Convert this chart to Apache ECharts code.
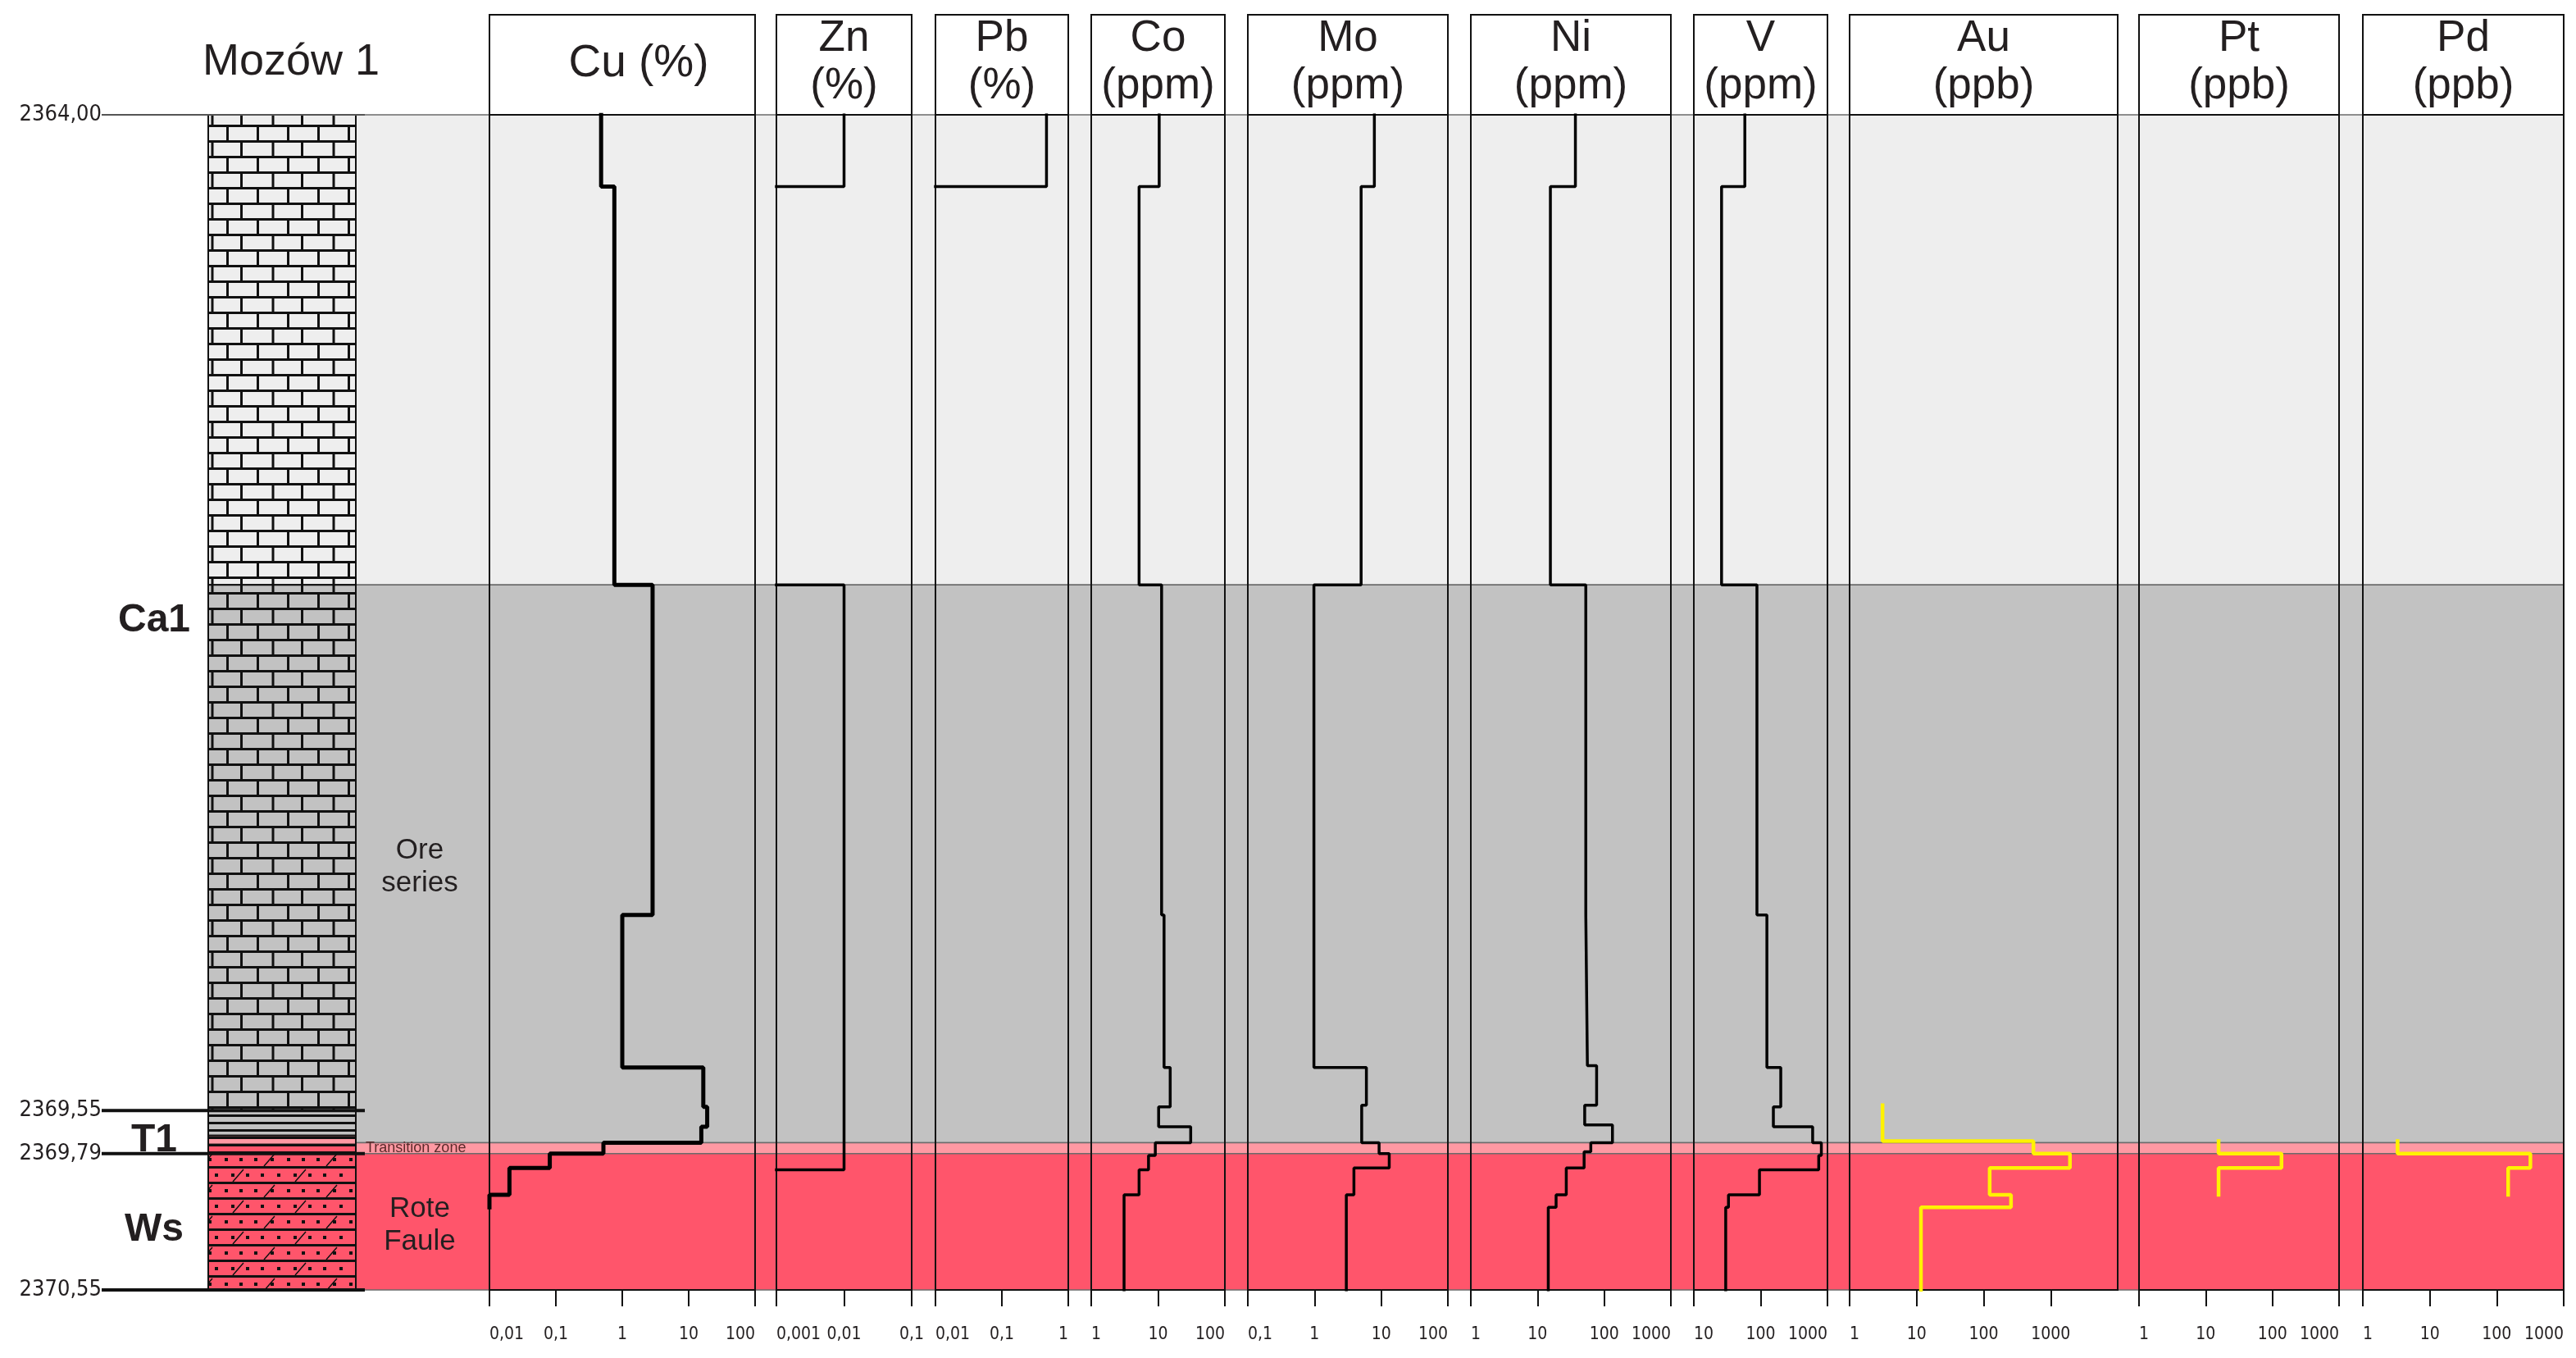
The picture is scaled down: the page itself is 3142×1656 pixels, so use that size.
<!DOCTYPE html>
<html>
<head>
<meta charset="utf-8">
<script src="https://cdn.jsdelivr.net/npm/echarts@6/dist/echarts.min.js"></script>
<style>
  html, body { margin: 0; padding: 0; background: #fff; }
  #chart { width: 3142px; height: 1656px; }
</style>
</head>
<body>
<div id="chart"></div>
<script>
// Mozów 1 - profil geochemiczny (Ca1 / T1 / Ws)

// zakres głębokości
const depthTop = 2364.00;
const depthBottom = 2370.55;

// kolumna litologiczna
const lithoTop = [2364.00, 2366.62, 2369.55, 2369.69, 2369.74, 2369.79];
const lithoBottom = [2366.62, 2369.55, 2369.69, 2369.74, 2369.79, 2370.55];
const lithoKind = ['limeLight', 'limeDark', 'shaleGray', 'shalePink', 'shaleRed', 'sandRed'];

// głębokości opisane z lewej
const depthMarks = [2364.00, 2369.55, 2369.79, 2370.55];

// jednostki stratygraficzne
const unitNames = ['Ca1', 'T1', 'Ws'];
const unitTop = [2364.00, 2369.55, 2369.79];
const unitBottom = [2369.55, 2369.79, 2370.55];

// strefy w tle
const zoneTop = [2364.00, 2366.62, 2369.73, 2369.79];
const zoneBottom = [2366.62, 2369.73, 2369.79, 2370.55];
const zoneNames = ['', 'Ore\nseries', 'Transition zone', 'Rote\nFaule'];

// pierwiastki i osie
const elements = ['Cu', 'Zn', 'Pb', 'Co', 'Mo', 'Ni', 'V', 'Au', 'Pt', 'Pd'];
const units = ['%', '%', '%', 'ppm', 'ppm', 'ppm', 'ppm', 'ppb', 'ppb', 'ppb'];
const axisMin = [0.01, 0.001, 0.01, 1, 0.1, 1, 10, 1, 1, 1];
const axisMax = [100, 0.1, 1, 100, 100, 1000, 1000, 10000, 1000, 1000];

// profile: granice próbek (głębokość) i wartości w przedziałach (null = poniżej osi)
const cuDepth = [2364.00, 2364.40, 2366.62, 2368.46, 2369.31, 2369.53, 2369.64, 2369.73, 2369.79, 2369.87, 2370.02, 2370.09];
const cuValue = [0.48, 0.76, 2.86, 1.0, 16.6, 19, 15.5, 0.52, 0.081, 0.020, 0.010];

const znDepth = [2364.00, 2364.40, 2366.62, 2369.88, 2370.55];
const znValue = [0.01, null, 0.01, null];

const pbDepth = [2364.00, 2364.40, 2370.55];
const pbValue = [0.47, null];

const coDepth = [2364.00, 2364.40, 2366.62, 2368.46, 2369.31, 2369.53, 2369.64, 2369.73, 2369.80, 2369.88, 2370.02, 2370.55];
const coValue = [10.4, 5.2, 11.3, 12.3, 15.2, 10.2, 30.8, 9.1, 7.2, 5.2, 3.1];

const moDepth = [2364.00, 2364.40, 2366.62, 2369.31, 2369.52, 2369.73, 2369.79, 2369.87, 2370.02, 2370.55];
const moValue = [7.9, 5.0, 0.98, 6.0, 5.1, 9.3, 13.2, 3.9, 3.0];

const niDepth = [2364.00, 2364.40, 2366.62, 2368.46, 2369.30, 2369.52, 2369.63, 2369.73, 2369.78, 2369.87, 2370.02, 2370.09, 2370.55];
const niValue = [37, 15.6, 53, 56, 77, 51, 133, 63, 50, 27, 19, 14.5];

const vDepth = [2364.00, 2364.40, 2366.62, 2368.46, 2369.31, 2369.53, 2369.64, 2369.73, 2369.80, 2369.88, 2370.02, 2370.09, 2370.55];
const vValue = [58, 26, 88, 124, 200, 155, 600, 810, 740, 96, 33, 30];

const auDepth = [2369.52, 2369.72, 2369.79, 2369.87, 2370.02, 2370.09, 2370.55];
const auValue = [3.1, 553, 1940, 123, 256, 11.6];

const ptDepth = [2369.72, 2369.79, 2369.87, 2370.02];
const ptValue = [15.6, 137, 15.6];

const pdDepth = [2369.72, 2369.79, 2369.87, 2370.02];
const pdValue = [3.3, 318, 148];

const profileDepth = [cuDepth, znDepth, pbDepth, coDepth, moDepth, niDepth, vDepth, auDepth, ptDepth, pdDepth];
const profileValue = [cuValue, znValue, pbValue, coValue, moValue, niValue, vValue, auValue, ptValue, pdValue];

// układ kolumn (px)
const panelLeft = [597, 947, 1141, 1331, 1522, 1794, 2066, 2256, 2609, 2882];
const panelRight = [921, 1112, 1303, 1494, 1766, 2038, 2229, 2583, 2853, 3127];
const plotTop = 140, plotHeight = 1433;

const FONT = '"Liberation Sans", Arial, sans-serif';
const NARROW = '"Liberation Sans Narrow", "DejaVu Sans Condensed", sans-serif';
const INK = '#231F20';
const zoneColor = ['#EEEEEE', '#C2C2C2', '#FF99A3', '#FF556B'];

// schodkowy przebieg z przedziałów
function stepPoints(depths, values, minVal) {
    const pts = [];
    values.forEach((v, i) => {
        if (v === null) {
            if (i > 0) pts.push([minVal, depths[i]]);
            pts.push(['-', '-']);
            if (i + 1 < values.length) pts.push([minVal, depths[i + 1]]);
            return;
        }
        pts.push([v, depths[i]], [v, depths[i + 1]]);
    });
    return pts;
}

// wzory wypełnień kolumny litologicznej
function makePattern(kind) {
    const c = document.createElement('canvas');
    const g = c.getContext('2d');
    const bg = {
        limeLight: '#EEEEEE', limeDark: '#C2C2C2', shaleGray: '#C2C2C2',
        shalePink: '#FF99A3', shaleRed: '#FF556B', sandRed: '#FF556B'
    }[kind];
    if (kind.indexOf('lime') === 0) {
        c.width = 74; c.height = 38;
        g.fillStyle = bg; g.fillRect(0, 0, 74, 38);
        g.strokeStyle = '#111'; g.lineWidth = 3;
        g.beginPath();
        g.moveTo(0, 1.5); g.lineTo(74, 1.5);
        g.moveTo(0, 20.5); g.lineTo(74, 20.5);
        g.moveTo(18.5, 1.5); g.lineTo(18.5, 20.5);
        g.moveTo(55.5, 1.5); g.lineTo(55.5, 20.5);
        g.moveTo(37, 20.5); g.lineTo(37, 38);
        g.moveTo(72.5, 20.5); g.lineTo(72.5, 38);
        g.stroke();
    } else if (kind.indexOf('shale') === 0) {
        c.width = 10; c.height = 9;
        g.fillStyle = bg; g.fillRect(0, 0, 10, 9);
        g.fillStyle = '#111'; g.fillRect(0, 0, 10, 3);
    } else {
        c.width = 76; c.height = 38;
        g.fillStyle = bg; g.fillRect(0, 0, 76, 38);
        g.fillStyle = '#111';
        g.fillRect(0, 16, 76, 3);
        g.fillRect(0, 35, 76, 3);
        [6, 26, 46, 64].forEach(x => g.fillRect(x, 6, 4, 4));
        [14, 34, 54, 72].forEach(x => g.fillRect(x, 25, 4, 4));
        g.strokeStyle = '#111'; g.lineWidth = 1.5;
        g.beginPath();
        g.moveTo(18, 16); g.lineTo(31, 1);
        g.moveTo(56, 35); g.lineTo(69, 20);
        g.stroke();
    }
    return { image: c, repeat: 'repeat' };
}

const patterns = {};
lithoKind.forEach(k => { patterns[k] = makePattern(k); });

const chart = echarts.init(document.getElementById('chart'), null, { renderer: 'canvas' });

const grids = [], xAxes = [], yAxes = [], series = [];

elements.forEach((el, i) => {
    grids.push({
        left: panelLeft[i], width: panelRight[i] - panelLeft[i],
        top: plotTop, height: plotHeight,
        show: true, borderColor: '#111', borderWidth: 2, backgroundColor: 'transparent'
    });
    xAxes.push({
        type: 'log', logBase: 10, gridIndex: i,
        min: axisMin[i], max: axisMax[i],
        axisLine: { show: true, lineStyle: { color: '#111', width: 2 } },
        axisTick: { show: true, length: 20, lineStyle: { color: '#111', width: 2 } },
        axisLabel: {
            margin: 44, fontSize: 21, fontFamily: NARROW, color: INK,
            alignMinLabel: 'left', alignMaxLabel: 'right',
            formatter: v => Number(v.toPrecision(4)).toString().replace('.', ',')
        },
        splitLine: { show: false }
    });
    yAxes.push({
        type: 'value', gridIndex: i, min: depthTop, max: depthBottom,
        inverse: true, show: false
    });
    const noble = i >= 7;
    series.push({
        type: 'line', xAxisIndex: i, yAxisIndex: i,
        data: stepPoints(profileDepth[i], profileValue[i], axisMin[i]),
        symbol: 'none', connectNulls: false, z: 5,
        lineStyle: { color: noble ? '#FFF200' : '#000', width: i === 0 ? 5 : (noble ? 4.5 : 3.5), cap: 'square' }
    });
});

// siatka tła (strefy)
grids.push({ left: 434, width: 3127 - 434, top: plotTop, height: plotHeight, show: false });
xAxes.push({ type: 'value', gridIndex: 10, min: 0, max: 1, show: false });
yAxes.push({ type: 'value', gridIndex: 10, min: depthTop, max: depthBottom, inverse: true, show: false });

// siatka kolumny litologicznej
grids.push({ left: 254, width: 180, top: plotTop, height: plotHeight, show: false });
xAxes.push({ type: 'value', gridIndex: 11, min: 0, max: 1, show: false });
yAxes.push({ type: 'value', gridIndex: 11, min: depthTop, max: depthBottom, inverse: true, show: false });

series.push({
    type: 'custom', xAxisIndex: 10, yAxisIndex: 10, z: -10,
    data: zoneTop.map((t, i) => [t, zoneBottom[i], i]),
    renderItem: (params, api) => {
        const i = api.value(2);
        const a = api.coord([0, api.value(0)]);
        const b = api.coord([1, api.value(1)]);
        const children = [{
            type: 'rect',
            shape: { x: a[0], y: a[1], width: b[0] - a[0], height: b[1] - a[1] },
            style: { fill: zoneColor[i], stroke: '#6b6b6b', lineWidth: 1.5 }
        }];
        const name = zoneNames[i];
        if (name) {
            const small = name.indexOf('\n') < 0;
            children.push({
                type: 'text',
                style: {
                    text: name,
                    x: small ? a[0] + 12 : a[0] + 78,
                    y: (a[1] + b[1]) / 2 + (small ? 0 : 4),
                    align: small ? 'left' : 'center',
                    verticalAlign: 'middle',
                    font: (small ? '18px ' : '35px ') + FONT,
                    lineHeight: 40,
                    fill: small ? '#5b2b2b' : INK
                }
            });
        }
        return { type: 'group', children };
    }
});

series.push({
    type: 'custom', xAxisIndex: 11, yAxisIndex: 11, z: 3,
    data: lithoTop.map((t, i) => [t, lithoBottom[i], i]),
    renderItem: (params, api) => {
        const i = api.value(2);
        const a = api.coord([0, api.value(0)]);
        const b = api.coord([1, api.value(1)]);
        return {
            type: 'rect',
            shape: { x: a[0], y: a[1], width: b[0] - a[0], height: b[1] - a[1] },
            style: { fill: patterns[lithoKind[i]], stroke: '#111', lineWidth: 2 }
        };
    }
});

series.push({
    type: 'custom', xAxisIndex: 11, yAxisIndex: 11, z: 4,
    data: depthMarks.map(d => [0, d]),
    renderItem: (params, api) => {
        const d = api.value(1);
        const p = api.coord([0, d]);
        const first = params.dataIndex === 0;
        return {
            type: 'group',
            children: [{
                type: 'line',
                shape: { x1: p[0] - 130, y1: p[1], x2: p[0] + 191, y2: p[1] },
                style: { stroke: first ? '#555' : '#111', lineWidth: first ? 2 : 4 }
            }, {
                type: 'text',
                style: {
                    text: d.toFixed(2).replace('.', ','),
                    x: p[0] - 130, y: p[1],
                    align: 'right', verticalAlign: 'middle',
                    font: '27px ' + NARROW, fill: INK
                }
            }]
        };
    }
});

series.push({
    type: 'custom', xAxisIndex: 11, yAxisIndex: 11, z: 4,
    data: unitNames.map((n, i) => [0, (unitTop[i] + unitBottom[i]) / 2, i]),
    renderItem: (params, api) => {
        const p = api.coord([0, api.value(1)]);
        return {
            type: 'text',
            style: {
                text: unitNames[api.value(2)],
                x: p[0] - 66, y: p[1] + 10,
                align: 'center', verticalAlign: 'middle',
                font: 'bold 48px ' + FONT, fill: INK
            }
        };
    }
});

// nagłówki kolumn
const graphics = [{
    type: 'text',
    style: { text: 'Mozów 1', x: 355, y: 76, align: 'center', verticalAlign: 'middle', font: '54px ' + FONT, fill: INK }
}];
elements.forEach((el, i) => {
    graphics.push({
        type: 'rect',
        shape: { x: panelLeft[i], y: 18, width: panelRight[i] - panelLeft[i], height: plotTop - 18 },
        style: { fill: '#fff', stroke: '#111', lineWidth: 2 }
    });
    graphics.push({
        type: 'text',
        style: {
            text: i === 0 ? el + ' (' + units[i] + ')' : el + '\n(' + units[i] + ')',
            x: (panelLeft[i] + panelRight[i]) / 2 + (i === 0 ? 20 : 0), y: i === 0 ? 78 : 76,
            align: 'center', verticalAlign: 'middle',
            font: (i === 0 ? '55px ' : '53px ') + FONT, lineHeight: 58, fill: INK
        }
    });
});

chart.setOption({
    animation: false,
    backgroundColor: '#fff',
    grid: grids,
    xAxis: xAxes,
    yAxis: yAxes,
    series: series,
    graphic: graphics
});
</script>
</body>
</html>
